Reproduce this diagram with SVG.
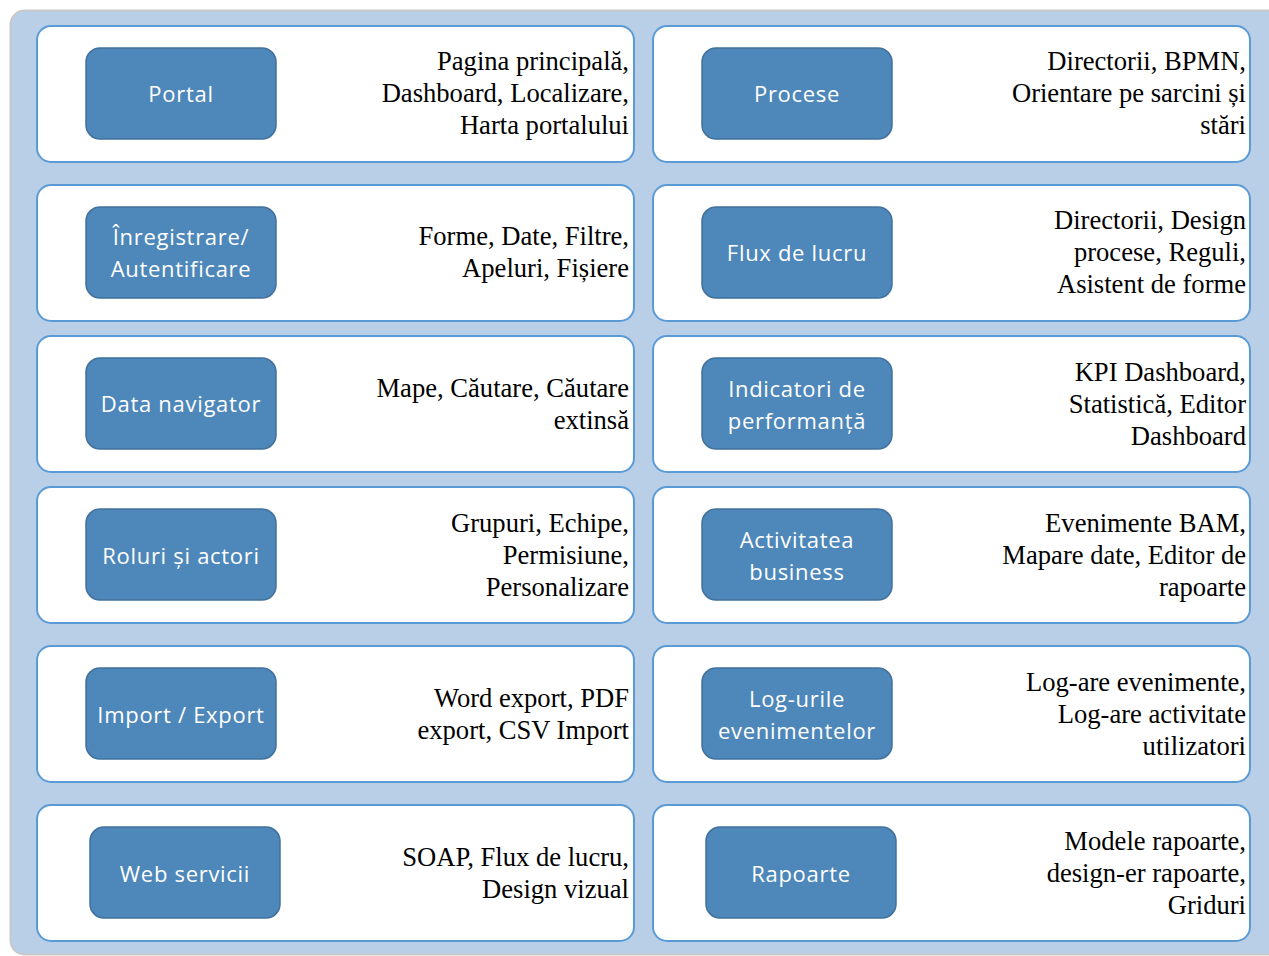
<svg xmlns="http://www.w3.org/2000/svg" width="1269" height="956" viewBox="0 0 1269 956">
<style>
.card{fill:#fff;stroke:#5B9BD5;stroke-width:2}
.btn{fill:#4E87BA;stroke:#41719C;stroke-width:1.5}
.bt{font-family:"Open Sans","Noto Sans",sans-serif;font-size:22px;letter-spacing:0.7px;fill:#fff;text-anchor:middle}
.dt{font-family:"Liberation Serif","Times New Roman",serif;font-size:26.6px;fill:#000;text-anchor:end}
</style>
<rect x="10.5" y="10.5" width="1290" height="944" rx="14" fill="#B9CFE8" stroke="#C8C8C8" stroke-width="2"/>
<g id="connectors"></g>

<g id="portal">
<rect class="card" x="37" y="26" width="597" height="136" rx="14"/>
<rect class="btn" x="86" y="48" width="190" height="91" rx="14"/>
<text class="bt" x="181" y="102">Portal</text>
<text class="dt" x="629" y="70">Pagina principală,</text>
<text class="dt" x="629" y="102">Dashboard, Localizare,</text>
<text class="dt" x="629" y="134">Harta portalului</text>
</g>
<g id="procese">
<rect class="card" x="653" y="26" width="597" height="136" rx="14"/>
<rect class="btn" x="702" y="48" width="190" height="91" rx="14"/>
<text class="bt" x="797" y="102">Procese</text>
<text class="dt" x="1246" y="70">Directorii, BPMN,</text>
<text class="dt" x="1246" y="102">Orientare pe sarcini și</text>
<text class="dt" x="1246" y="134">stări</text>
</g>

<g id="inregistrare">
<rect class="card" x="37" y="185" width="597" height="136" rx="14"/>
<rect class="btn" x="86" y="207" width="190" height="91" rx="14"/>
<text class="bt" x="181" y="245">Înregistrare/</text>
<text class="bt" x="181" y="277">Autentificare</text>
<text class="dt" x="629" y="245">Forme, Date, Filtre,</text>
<text class="dt" x="629" y="277">Apeluri, Fișiere</text>
</g>
<g id="flux">
<rect class="card" x="653" y="185" width="597" height="136" rx="14"/>
<rect class="btn" x="702" y="207" width="190" height="91" rx="14"/>
<text class="bt" x="797" y="261">Flux de lucru</text>
<text class="dt" x="1246" y="229">Directorii, Design</text>
<text class="dt" x="1246" y="261">procese, Reguli,</text>
<text class="dt" x="1246" y="293">Asistent de forme</text>
</g>

<g id="datanav">
<rect class="card" x="37" y="336" width="597" height="136" rx="14"/>
<rect class="btn" x="86" y="358" width="190" height="91" rx="14"/>
<text class="bt" x="181" y="412">Data navigator</text>
<text class="dt" x="629" y="397">Mape, Căutare, Căutare</text>
<text class="dt" x="629" y="429">extinsă</text>
</g>
<g id="indicatori">
<rect class="card" x="653" y="336" width="597" height="136" rx="14"/>
<rect class="btn" x="702" y="358" width="190" height="91" rx="14"/>
<text class="bt" x="797" y="397">Indicatori de</text>
<text class="bt" x="797" y="429">performanță</text>
<text class="dt" x="1246" y="381">KPI Dashboard,</text>
<text class="dt" x="1246" y="413">Statistică, Editor</text>
<text class="dt" x="1246" y="445">Dashboard</text>
</g>

<g id="roluri">
<rect class="card" x="37" y="487" width="597" height="136" rx="14"/>
<rect class="btn" x="86" y="509" width="190" height="91" rx="14"/>
<text class="bt" x="181" y="564">Roluri și actori</text>
<text class="dt" x="629" y="532">Grupuri, Echipe,</text>
<text class="dt" x="629" y="564">Permisiune,</text>
<text class="dt" x="629" y="596">Personalizare</text>
</g>
<g id="activitatea">
<rect class="card" x="653" y="487" width="597" height="136" rx="14"/>
<rect class="btn" x="702" y="509" width="190" height="91" rx="14"/>
<text class="bt" x="797" y="548">Activitatea</text>
<text class="bt" x="797" y="580">business</text>
<text class="dt" x="1246" y="532">Evenimente BAM,</text>
<text class="dt" x="1246" y="564">Mapare date, Editor de</text>
<text class="dt" x="1246" y="596">rapoarte</text>
</g>

<g id="import">
<rect class="card" x="37" y="646" width="597" height="136" rx="14"/>
<rect class="btn" x="86" y="668" width="190" height="91" rx="14"/>
<text class="bt" x="181" y="723">Import / Export</text>
<text class="dt" x="629" y="707">Word export, PDF</text>
<text class="dt" x="629" y="739">export, CSV Import</text>
</g>
<g id="loguri">
<rect class="card" x="653" y="646" width="597" height="136" rx="14"/>
<rect class="btn" x="702" y="668" width="190" height="91" rx="14"/>
<text class="bt" x="797" y="707">Log-urile</text>
<text class="bt" x="797" y="739">evenimentelor</text>
<text class="dt" x="1246" y="691">Log-are evenimente,</text>
<text class="dt" x="1246" y="723">Log-are activitate</text>
<text class="dt" x="1246" y="755">utilizatori</text>
</g>

<g id="web">
<rect class="card" x="37" y="805" width="597" height="136" rx="14"/>
<rect class="btn" x="90" y="827" width="190" height="91" rx="14"/>
<text class="bt" x="185" y="882">Web servicii</text>
<text class="dt" x="629" y="866">SOAP, Flux de lucru,</text>
<text class="dt" x="629" y="898">Design vizual</text>
</g>
<g id="rapoarte">
<rect class="card" x="653" y="805" width="597" height="136" rx="14"/>
<rect class="btn" x="706" y="827" width="190" height="91" rx="14"/>
<text class="bt" x="801" y="882">Rapoarte</text>
<text class="dt" x="1246" y="850">Modele rapoarte,</text>
<text class="dt" x="1246" y="882">design-er rapoarte,</text>
<text class="dt" x="1246" y="914">Griduri</text>
</g>
</svg>
